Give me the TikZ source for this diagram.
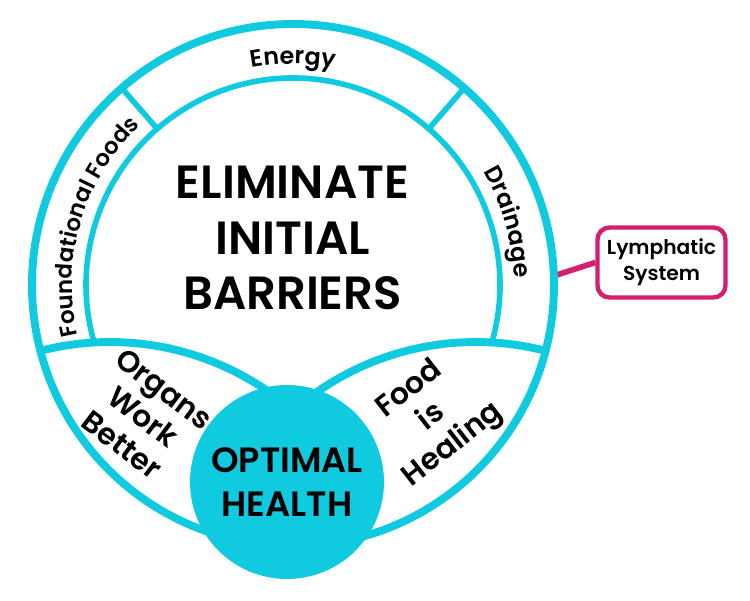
\documentclass[tikz,border=0pt]{standalone}
\usepackage{fontspec}
\setmainfont{Poppins}[BoldFont={Poppins SemiBold}]
\newfontfamily\medfont{Poppins SemiBold}
\usetikzlibrary{positioning,decorations.text}
\definecolor{aqua}{RGB}{16,203,224}
\definecolor{berry}{RGB}{212,30,111}
\tikzstyle{rim} = [draw=aqua,line width=4.5pt]
\tikzstyle{wall} = [draw=aqua,line width=3.2pt]
\tikzstyle{headline} = [align=center,font=\bfseries\fontsize{26.5}{31.75}\selectfont]
\tikzstyle{core} = [circle,fill=aqua,inner sep=0,minimum size=3.88cm,align=center,font=\bfseries\fontsize{20}{25}\selectfont]
\tikzstyle{petal} = [align=center,font=\medfont\fontsize{17}{20}\selectfont]
\tikzstyle{tag} = [draw=berry,fill=white,line width=2.5pt,rounded corners=.24cm,minimum width=2.56cm,minimum height=1.4cm,align=center,font=\bfseries\fontsize{11.5}{14.7}\selectfont]
\tikzstyle{tie} = [draw=berry,line width=3.2pt]
\def \Ro {261}
\def \Ri {207}
\def \Rt {221}

\begin{document}
\begin{tikzpicture}[x=0.02cm,y=0.02cm]
  \useasboundingbox (0,0) rectangle (750,600);
  \coordinate (O) at (293,315);
  \coordinate (L) at (110,-20);
  \coordinate (R) at (476,-20);
  \coordinate (hook) at ([shift={(2:\Ro)}]O);
  \node[tag] (lymph) at (661.5,337.5) {Lymphatic\\System};
  \draw[tie] (hook) -- (lymph.west);
  % rings
  \draw[rim] (O) circle[radius=\Ro];
  \draw[wall] ([shift={(-16.4:\Ri)}]O) arc[start angle=-16.4,end angle=196.1,radius=\Ri];
  \draw[wall] ([shift={(131:\Ri)}]O) -- ([shift={(131:\Ro)}]O);
  \draw[wall] ([shift={(49:\Ri)}]O) -- ([shift={(49:\Ro)}]O);
  \draw[rim] ([shift={(104.5:278)}]L) arc[start angle=104.5,end angle=52,radius=278];
  \draw[rim] ([shift={(75.5:278)}]R) arc[start angle=75.5,end angle=128,radius=278];
  \node[core] (health) at (287,118) {OPTIMAL\\HEALTH};
  \node[headline] (barriers) at (292.5,362) {ELIMINATE\\INITIAL\\BARRIERS};
  % ring labels
  \path[decorate,decoration={text along path,text align=center,text={|\medfont\fontsize{13.5}{13.5}\selectfont|Energy}}]
    ([shift={(131:\Rt)}]O) arc[start angle=131,end angle=49,radius=\Rt];
  \path[decorate,decoration={text along path,text align=center,text={|\medfont\fontsize{13}{13}\selectfont|Foundational Foods}}]
    ([shift={(196:\Rt)}]O) arc[start angle=196,end angle=131,radius=\Rt];
  \path[decorate,decoration={text along path,text align=center,text={|\medfont\fontsize{13.5}{13.5}\selectfont|Drainage}}]
    ([shift={(49:\Rt)}]O) arc[start angle=49,end angle=-16.4,radius=\Rt];
  \node[petal,rotate=-37] (organs) at (143,183) {Organs\\Work\\Better};
  \node[petal,rotate=38] (food) at (432,182) {Food\\is\\Healing};
\end{tikzpicture}
\end{document}
